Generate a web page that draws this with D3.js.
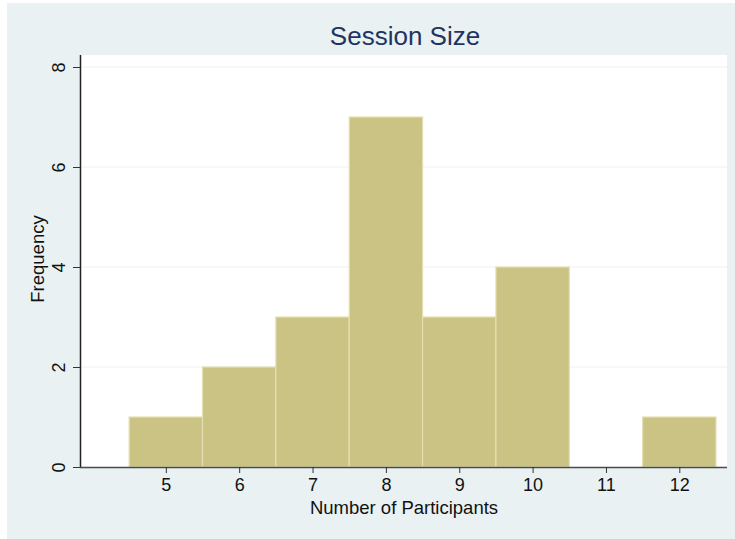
<!DOCTYPE html>
<html>
<head>
<meta charset="utf-8">
<script src="https://cdn.jsdelivr.net/npm/d3@7"></script>
<style>
  html, body { margin: 0; padding: 0; background: #ffffff; }
  svg { display: block; font-family: "Liberation Sans", Arial, Helvetica, sans-serif; }
</style>
</head>
<body>
<svg id="chart" width="735" height="539"></svg>
<script>
const categories = [5, 6, 7, 8, 9, 10, 11, 12];
const frequencies = [1, 2, 3, 7, 3, 4, 0, 1];
const xTicks = [5, 6, 7, 8, 9, 10, 11, 12];
const yTicks = [0, 2, 4, 6, 8];
const titleText = "Session Size";
const xTitle = "Number of Participants";
const yTitle = "Frequency";

const svg = d3.select("#chart");
const W = 735, H = 539;

// outer background
svg.append("rect").attr("x", 7).attr("y", 3).attr("width", W - 7).attr("height", H - 3)
  .attr("fill", "#e9f1f3");

const plot = { left: 80, right: 727, top: 55, bottom: 467 };

svg.append("rect").attr("x", plot.left).attr("y", plot.top)
  .attr("width", plot.right - plot.left).attr("height", plot.bottom - plot.top)
  .attr("fill", "#ffffff");

const x = d3.scaleLinear().domain([3.83, 12.65]).range([plot.left, plot.right]);
const y = d3.scaleLinear().domain([0, 8]).range([plot.bottom, 67]);

// gridlines
svg.append("g").selectAll("line").data(yTicks.filter(d => d > 0)).join("line")
  .attr("x1", plot.left).attr("x2", plot.right)
  .attr("y1", d => y(d)).attr("y2", d => y(d))
  .attr("stroke", "#eaf1f2").attr("stroke-width", 1.2);

// bars
const data = categories.map((c, i) => ({ c, v: frequencies[i] }));
svg.append("g").selectAll("rect").data(data.filter(d => d.v > 0)).join("rect")
  .attr("x", d => x(d.c - 0.5))
  .attr("y", d => y(d.v))
  .attr("width", d => x(d.c + 0.5) - x(d.c - 0.5))
  .attr("height", d => y(0) - y(d.v))
  .attr("fill", "#cbc383")
  .attr("stroke", "#e4dfb2")
  .attr("stroke-width", 1.2);

// x axis
const xAxis = d3.axisBottom(x).tickValues(xTicks).tickSize(6).tickSizeOuter(0).tickPadding(4);
const gx = svg.append("g").attr("transform", `translate(0,${plot.bottom})`).call(xAxis);
gx.select(".domain").attr("d", `M${plot.left},0.5H${plot.right}`).attr("stroke", "#4a4a4a").attr("stroke-width", 1.5);
gx.selectAll(".tick line").attr("stroke", "#333");
gx.selectAll(".tick text").attr("font-size", 18).attr("fill", "#111")
  .attr("font-family", "Liberation Sans, Arial, sans-serif")
  .attr("y", null).attr("dy", null).attr("dominant-baseline", "middle")
  .attr("transform", "translate(0,19)");

// y axis
const yAxis = d3.axisLeft(y).tickValues(yTicks).tickSize(7).tickSizeOuter(0).tickPadding(8);
const gy = svg.append("g").attr("transform", `translate(${plot.left},0)`).call(yAxis);
gy.select(".domain").attr("d", `M0.5,${plot.top}V${plot.bottom}`).attr("stroke", "#222").attr("stroke-width", 1.5);
gy.selectAll(".tick line").attr("stroke", "#333");
gy.selectAll(".tick text")
  .attr("font-size", 18).attr("fill", "#111")
  .attr("font-family", "Liberation Sans, Arial, sans-serif")
  .attr("text-anchor", "middle")
  .attr("x", null).attr("dy", null)
  .attr("transform", "translate(-20,0) rotate(-90)")
  .attr("dominant-baseline", "middle");

// titles
svg.append("text").attr("x", 405).attr("y", 45).attr("text-anchor", "middle")
  .attr("font-size", 26).attr("fill", "#1f3461").text(titleText);

svg.append("text").attr("x", 404).attr("y", 514).attr("text-anchor", "middle")
  .attr("font-size", 18.5).attr("fill", "#111").text(xTitle);

svg.append("text").attr("transform", `translate(44,${(plot.top + plot.bottom) / 2 - 2}) rotate(-90)`)
  .attr("text-anchor", "middle").attr("font-size", 18.5).attr("fill", "#111").text(yTitle);
</script>
</body>
</html>
